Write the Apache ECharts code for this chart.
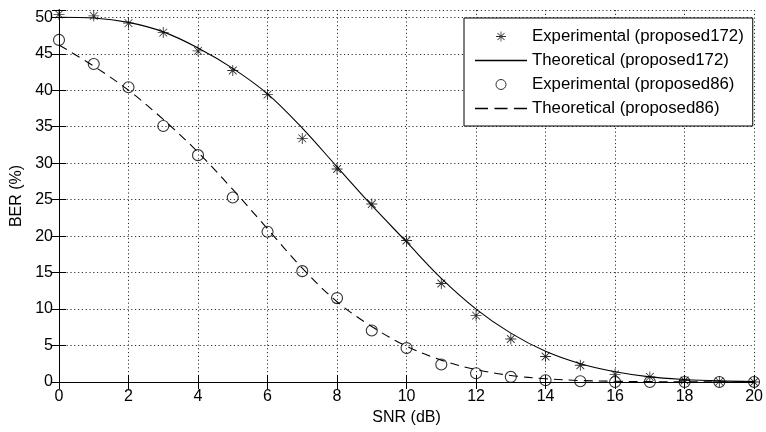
<!DOCTYPE html>
<html>
<head>
<meta charset="utf-8">
<script src="https://cdn.jsdelivr.net/npm/echarts@6/dist/echarts.min.js"></script>
<style>
html,body{margin:0;padding:0;background:#fff;}
#c{width:766px;height:432px;}
</style>
</head>
<body>
<div id="c"></div>
<script>
const snr = [0,1,2,3,4,5,6,7,8,9,10,11,12,13,14,15,16,17,18,19,20];
const exp172 = [50.4,50.2,49.2,47.9,45.4,42.7,39.4,33.4,29.2,24.4,19.4,13.5,9.1,5.9,3.5,2.3,1.05,0.7,0.2,0.05,0];
const theo172 = [50.0,49.9,49.3,48.0,45.8,43.0,39.5,34.8,29.5,24.2,19.2,14.2,10.0,6.7,4.2,2.5,1.4,0.7,0.35,0.15,0.05];
const exp86 = [46.9,43.6,40.4,35.1,31.1,25.3,20.6,15.2,11.5,7.06,4.65,2.4,1.2,0.7,0.25,0.1,0,0,0,0,0];
const theo86 = [46.2,43.3,40.0,36.0,31.5,26.4,21.0,15.6,11.0,7.6,4.9,3.0,1.7,0.9,0.45,0.2,0.1,0.05,0.02,0.01,0];
const seriesNames = ['Experimental (proposed172)','Theoretical (proposed172)','Experimental (proposed86)','Theoretical (proposed86)'];
const xTicks = [0,2,4,6,8,10,12,14,16,18,20];
const yTicks = [0,5,10,15,20,25,30,35,40,45,50];

const pairs = arr => snr.map((x,i)=>[x, arr[i]]);
const star = 'path://M9.2 0 L10.8 0 L10.8 20 L9.2 20 Z M0 9.2 L20 9.2 L20 10.8 L0 10.8 Z M2.4 3.5 L3.5 2.4 L17.6 16.5 L16.5 17.6 Z M16.5 2.4 L17.6 3.5 L3.5 17.6 L2.4 16.5 Z';
const solidIcon = 'path://M0 0 L52 0 L52 1.3 L0 1.3 Z';
const dashIcon = 'path://M0 0 L13 0 L13 1.3 L0 1.3 Z M19.5 0 L32.5 0 L32.5 1.3 L19.5 1.3 Z M39 0 L52 0 L52 1.3 L39 1.3 Z';
const FONT = '"Liberation Sans", Arial, sans-serif';
const grid = {color:'#333', width:1, type:[1.2,2.6]};

const chart = echarts.init(document.getElementById('c'));
chart.setOption({
  animation:false,
  backgroundColor:'#fff',
  textStyle:{fontFamily:FONT},
  grid:{left:59, right:8, top:10, bottom:50, containLabel:false},
  legend:{
    orient:'vertical', left:464, top:18,
    padding:[10,9,9,11],
    backgroundColor:'#fff', borderColor:'#000', borderWidth:1,
    itemWidth:52, itemHeight:10, itemGap:7,
    textStyle:{fontFamily:FONT, fontSize:16.8, color:'#000'},
    data:[
      {name:seriesNames[0]},
      {name:seriesNames[1], icon:solidIcon},
      {name:seriesNames[2], itemStyle:{borderWidth:1}},
      {name:seriesNames[3], icon:dashIcon}
    ]
  },
  xAxis:[{
    type:'value', min:0, max:20, interval:2, position:'bottom',
    name:'SNR (dB)', nameLocation:'middle', nameGap:28,
    nameTextStyle:{fontSize:16, color:'#000', fontFamily:FONT},
    axisLine:{lineStyle:{color:'#000', width:1}},
    axisTick:{inside:true, length:7, lineStyle:{color:'#000'}},
    axisLabel:{fontSize:16, color:'#000', margin:7, fontFamily:FONT,
      formatter:v=> xTicks.includes(v) ? String(v) : ''},
    splitLine:{show:true, lineStyle:grid}
  },{
    type:'value', min:0, max:20, interval:2, position:'top',
    axisLine:{show:true, lineStyle:{color:'#000', width:1}},
    axisTick:{inside:true, length:7, lineStyle:{color:'#000'}},
    axisLabel:{show:false}, splitLine:{show:false}
  }],
  yAxis:[{
    type:'value', min:0, max:51, interval:5, position:'left',
    name:'BER (%)', nameLocation:'middle', nameGap:34,
    nameTextStyle:{fontSize:16, color:'#000', fontFamily:FONT},
    axisLine:{show:true, lineStyle:{color:'#000', width:1}},
    axisTick:{show:true, inside:true, length:7, lineStyle:{color:'#000'}},
    axisLabel:{fontSize:16, color:'#000', margin:6, fontFamily:FONT,
      formatter:v=> yTicks.includes(v) ? String(v) : ''},
    splitLine:{show:true, lineStyle:grid}
  },{
    type:'value', min:0, max:51, interval:5, position:'right',
    axisLine:{show:true, lineStyle:{color:'#000', width:1}},
    axisTick:{show:true, inside:true, length:7, lineStyle:{color:'#000'}},
    axisLabel:{show:false}, splitLine:{show:false}
  }],
  series:[
    {name:seriesNames[0], type:'scatter', data:pairs(exp172), symbol:star, symbolSize:11,
      itemStyle:{color:'#000'}, z:5},
    {name:seriesNames[1], type:'line', data:pairs(theo172), smooth:0.35, symbol:'none', showSymbol:false,
      lineStyle:{color:'#000', width:1.1}, itemStyle:{color:'#000'}, z:3},
    {name:seriesNames[2], type:'scatter', data:pairs(exp86), symbol:'circle', symbolSize:11,
      itemStyle:{color:'rgba(0,0,0,0)', borderColor:'#000', borderWidth:1.1}, z:5},
    {name:seriesNames[3], type:'line', data:pairs(theo86), smooth:0.35, symbol:'none', showSymbol:false,
      lineStyle:{color:'#000', width:1.1, type:[9,6]}, itemStyle:{color:'#000'}, z:3}
  ]
});
</script>
</body>
</html>
